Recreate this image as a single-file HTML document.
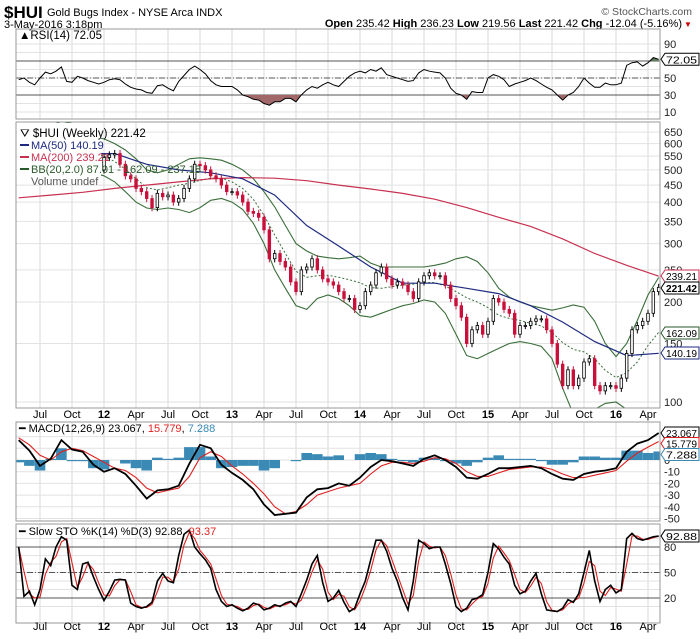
<!DOCTYPE html>
<html><head><meta charset="utf-8">
<style>
body{margin:0;background:#fff;}
svg{display:block;font-family:"Liberation Sans",sans-serif;}
</style></head>
<body>
<svg id="chart" width="700" height="639" viewBox="0 0 700 639" xmlns="http://www.w3.org/2000/svg">
<rect x="0" y="0" width="700" height="639" fill="#fff"/>
<text x="4" y="18" font-size="17" font-weight="bold">$HUI</text>
<text x="47" y="16" font-size="11">Gold Bugs Index - NYSE Arca INDX</text>
<text x="692" y="15" font-size="10.5" fill="#555" text-anchor="end">© StockCharts.com</text>
<text x="4" y="28" font-size="11">3-May-2016 3:18pm</text>
<text x="682" y="27" font-size="11" text-anchor="end"><tspan font-weight="bold">Open</tspan> 235.42 <tspan font-weight="bold">High</tspan> 236.23 <tspan font-weight="bold">Low</tspan> 219.56 <tspan font-weight="bold">Last</tspan> 221.42 <tspan font-weight="bold">Chg</tspan> -12.04 (-5.16%)</text>
<text x="684" y="27" font-size="8" fill="#c00">▼</text>
<g id="g"></g>
</svg>
<script>
const closes=[540,550,540,520,545,580,590,630,640,590,520,560,590,570,560,500,
545,555,560,520,480,470,440,430,410,385,425,415,420,400,410,440,470,520,515,500,480,470,450,430,
430,420,400,375,370,360,330,270,280,265,255,230,215,250,255,270,250,235,230,225,215,205,205,190,
195,215,225,245,255,235,225,230,225,215,205,230,240,245,240,240,225,205,195,180,150,165,170,160,
175,205,200,190,185,160,170,170,175,178,178,165,150,130,112,125,112,118,132,135,112,108,112,112,
110,118,140,165,170,175,185,215,221.42];
const ma200=[412,420,428,440,450,460,470,474,472,464,450,438,425,408,385,360,338,310,280,258,239.21];
const ma50=[550,560,560,560,520,500,490,470,420,340,295,255,228,228,220,212,195,174,152,138,140.19];
const bbUpper=[620,610,640,680,700,690,650,630,620,600,574,540,500,490,500,520,540,544,540,535,520,500,470,430,387,340,300,285,275,272,270,272,275,262,255,255,255,255,255,258,262,270,274,265,245,220,207,200,195,192,189,192,196,193,175,150,137,150,176,210,237.18];
const bbLower=[480,500,490,470,470,470,480,490,480,460,430,400,384,380,384,380,372,385,405,410,400,380,345,300,250,220,195,190,205,210,205,195,182,180,185,190,195,198,203,200,185,160,138,135,140,145,150,152,150,147,135,110,92,90,95,99,100,95,88,86,87.01];
const rsi=[48,50,45,42,50,57,55,58,63,46,45,52,50,47,45,43,45,48,49,48,43,39,37,36,33,32,41,42,38,35,46,53,60,64,60,55,47,42,40,40,40,36,30,28,25,24,20,18,22,22,26,26,22,30,36,40,38,42,45,42,40,46,52,56,58,56,60,58,62,54,52,50,48,46,47,56,60,58,57,56,50,38,32,30,25,34,33,33,50,54,52,48,40,43,45,47,50,47,43,39,36,30,24,30,33,40,50,44,39,39,44,42,42,44,65,68,69,64,68,74,72.05];
const macd=[17,8,-5,1,17,9,7,-4,-10,-7,-12,-22,-33,-26,-25,-22,-3,13,10,-4,-11,-17,-25,-38,-47,-46,-45,-32,-25,-24,-20,-22,-15,-6,0,-1,-3,-5,1,4,0,-6,-15,-16,-12,-7,-7,-6,-5,-7,-12,-16,-17,-12,-10,-9,-7,7,14,17,23.067];
const signal=[19,13,4,0,7,10,8,3,-2,-7,-9,-15,-24,-28,-26,-24,-14,2,7,3,-5,-12,-20,-29,-40,-46,-44,-38,-30,-27,-24,-22,-20,-12,-5,-2,-2,-3,-1,2,1,-3,-10,-14,-14,-11,-8,-7,-6,-6,-8,-12,-15,-15,-13,-11,-9,-1,6,11,15.779];
const stoK=[80,22,28,12,30,66,58,80,92,88,35,30,60,62,45,30,17,28,41,42,41,14,10,8,10,15,40,49,40,38,70,95,100,80,72,65,55,30,16,10,12,8,5,8,14,12,6,8,12,10,14,16,10,25,41,60,70,38,16,20,29,15,4,8,25,40,65,88,88,75,55,40,20,6,40,88,84,78,80,80,60,37,10,4,8,18,20,24,50,84,78,68,60,35,25,28,40,49,25,6,5,4,8,18,15,25,50,76,40,16,30,35,26,30,90,96,90,88,90,92,92.88];
const priceTicks=[650,600,550,500,450,400,350,300,250,200,150,100];
const rsiTicks=[90,50,30,10];
const macdTicks=[0,-10,-20,-30,-40,-50];
const stoTicks=[80,50,20];
const dateLabels=["Jul","Oct","12","Apr","Jul","Oct","13","Apr","Jul","Oct","14","Apr","Jul","Oct","15","Apr","Jul","Oct","16","Apr"];

const NS="http://www.w3.org/2000/svg";
const G=document.getElementById('g');
const L=16,R=660;
function xi(i){return 18.7+5.333*i;}
function xk(k){return xi(2*k);}
function xq(q){return 40+q*32;}
function pY(v){return 402-144.2*Math.log(v/100);}
function rY(v){return 120.5-0.85*v;}
function mY(v){return 460-1.17*v;}
function sY(v){return 615-0.85*v;}
function el(tag,attrs,parent){const e=document.createElementNS(NS,tag);for(const k in attrs)e.setAttribute(k,attrs[k]);(parent||G).appendChild(e);return e;}
function pts(arr,fx,fy){return arr.map((v,i)=>fx(i).toFixed(1)+','+fy(v).toFixed(1)).join(' ');}

const panels=[[29,90,'rsi'],[122,286,'price'],[422,99,'macd'],[524,99,'sto']];
const defs=el('defs',{});
panels.forEach(p=>{const c=el('clipPath',{id:'clip-'+p[2]},defs);el('rect',{x:L,y:p[0],width:R-L,height:p[1]},c);});

panels.forEach(p=>{
  const g=el('g',{'clip-path':'url(#clip-'+p[2]+')'});
  
  
  for(let q=0;q<dateLabels.length;q++){el('line',{x1:xq(q),x2:xq(q),y1:p[0],y2:p[0]+p[1],stroke:'#d8d8d8','stroke-width':1},g);}
});
for(let v=10;v<100;v+=10){el('line',{x1:L,x2:R,y1:rY(v),y2:rY(v),stroke:'#e2e2e2'});}
priceTicks.forEach(v=>el('line',{x1:L,x2:R,y1:pY(v),y2:pY(v),stroke:'#e2e2e2'}));
macdTicks.concat([10,20]).forEach(v=>el('line',{x1:L,x2:R,y1:mY(v),y2:mY(v),stroke:'#e2e2e2'}));
for(let v=10;v<100;v+=10){el('line',{x1:L,x2:R,y1:sY(v),y2:sY(v),stroke:'#e2e2e2'});}

// RSI
el('line',{x1:L,x2:R,y1:rY(70),y2:rY(70),stroke:'#555'});
el('line',{x1:L,x2:R,y1:rY(30),y2:rY(30),stroke:'#555'});
el('line',{x1:L,x2:R,y1:rY(50),y2:rY(50),stroke:'#555','stroke-dasharray':'6,2,1,2'});
const ca=el('clipPath',{id:'rsi-hi'},defs);el('rect',{x:L,y:0,width:R-L,height:rY(70)},ca);
const cb=el('clipPath',{id:'rsi-lo'},defs);el('rect',{x:L,y:rY(30),width:R-L,height:100},cb);
const rp=pts(rsi,xi,rY);
const rsiHi=el('polygon',{points:xi(0)+','+rY(70)+' '+rp+' '+xi(120)+','+rY(70),fill:'#5e7e5e','clip-path':'url(#rsi-hi)'});


const rsiLo=el('polygon',{points:xi(0)+','+rY(30)+' '+rp+' '+xi(120)+','+rY(30),fill:'#a06868','clip-path':'url(#rsi-lo)'});


const rsiLine=el('polyline',{points:rp,fill:'none',stroke:'#000','stroke-width':1});



// Price panel
const pg=el('g',{'clip-path':'url(#clip-price)'});


const bbu=el('polyline',{points:pts(bbUpper,xk,pY),fill:'none',stroke:'#3a6e3a','stroke-width':1.1},pg);


const bbl=el('polyline',{points:pts(bbLower,xk,pY),fill:'none',stroke:'#3a6e3a','stroke-width':1.1},pg);


const bbMid=bbUpper.map((u,k)=>(u+bbLower[k])/2);
const bbm=el('polyline',{points:pts(bbMid,xk,pY),fill:'none',stroke:'#3a6e3a','stroke-width':1,'stroke-dasharray':'2,2'},pg);


function xm(j){return xi(6*j);}
const m200=el('polyline',{points:pts(ma200,xm,pY),fill:'none',stroke:'#c83050','stroke-width':1.2},pg);


const m50=el('polyline',{points:pts(ma50,xm,pY),fill:'none',stroke:'#1e2a80','stroke-width':1.2},pg);


closes.forEach((c,i)=>{
  const o=i?closes[i-1]:c*1.01;
  const hi=Math.max(o,c)*1.025, lo=Math.min(o,c)*0.975;
  const up=c>=o; const col=up?'#000':'#c8103a';
  const x=xi(i);
  const w=el('line',{x1:x,x2:x,y1:pY(hi),y2:pY(lo),stroke:col,'stroke-width':1},pg);
  
  
  const b=el('rect',{x:x-1.3,y:pY(Math.max(o,c)),width:2.6,height:Math.max(1,pY(Math.min(o,c))-pY(Math.max(o,c))),fill:up?'#fff':'#c8103a',stroke:col,'stroke-width':0.8},pg);
  
  
});
el('rect',{x:17,y:123,width:84,height:60,fill:'#fff'});
function legendLine(y,color,txt,name){
  const t=el('text',{x:31,y:y,'font-size':11});
  t.textContent=txt;
  
  
  if(color){el('line',{x1:20,x2:29,y1:y-4,y2:y-4,stroke:color,'stroke-width':2});}
  return t;
}
const l0=el('text',{x:20,y:137,'font-size':11.5});l0.textContent='\u26DB $HUI (Weekly) 221.42';


legendLine(149,'#1e2a80','MA(50) 140.19','legend-ma50').setAttribute('fill','#1e2a80');
legendLine(161,'#c83050','MA(200) 239.21','legend-ma200').setAttribute('fill','#c83050');
legendLine(173,'#2a5a2a','BB(20,2.0) 87.01 - 162.09 - 237.18','legend-bb').setAttribute('fill','#2a5a2a');
legendLine(185,null,'Volume undef','legend-volume').setAttribute('fill','#555');

// MACD
const hg=el('g',{'clip-path':'url(#clip-macd)'});


macd.forEach((v,k)=>{const h=v-signal[k];const y0=mY(0),y1=mY(h);
  const b=el('rect',{x:xk(k)-5.3,y:Math.min(y0,y1),width:10.6,height:Math.abs(y1-y0),fill:'#3b8ab5'},hg);
  
  
});
const sl=el('polyline',{points:pts(signal,xk,mY),fill:'none',stroke:'#e02020','stroke-width':1.1});


const ml=el('polyline',{points:pts(macd,xk,mY),fill:'none',stroke:'#000','stroke-width':1.8});



// STO
el('line',{x1:L,x2:R,y1:sY(80),y2:sY(80),stroke:'#555'});
el('line',{x1:L,x2:R,y1:sY(20),y2:sY(20),stroke:'#555'});
el('line',{x1:L,x2:R,y1:sY(50),y2:sY(50),stroke:'#555','stroke-dasharray':'6,2,1,2'});
const stoD=stoK.map((v,i)=>i?(v+stoK[i-1])/2:v);
const sd=el('polyline',{points:pts(stoD,xi,sY),fill:'none',stroke:'#e02020','stroke-width':1.1});


const sk=el('polyline',{points:pts(stoK,xi,sY),fill:'none',stroke:'#000','stroke-width':1.6});



panels.forEach(p=>el('rect',{x:L,y:p[0],width:R-L,height:p[1],fill:'none',stroke:'#999'}));

function rlab(y,txt){const t=el('text',{x:664,y:y+4,'font-size':11,fill:'#222'});t.textContent=txt;
  
  }
rsiTicks.forEach(v=>rlab(rY(v),String(v)));
priceTicks.forEach(v=>rlab(pY(v),String(v)));
macdTicks.forEach(v=>rlab(mY(v),String(v)));
stoTicks.forEach(v=>rlab(sY(v),String(v)));
function vbox(y,txt,color,bold,name){
  const g=el('g',{});
  
  
  el('polygon',{points:`661,${y} 665,${y-6} 699,${y-6} 699,${y+6} 665,${y+6}`,fill:'#fff',stroke:color,'stroke-width':1},g);
  const t=el('text',{x:666,y:y+4,'font-size':10.5,fill:'#000','font-weight':bold?'bold':'normal',textLength:31,lengthAdjust:'spacingAndGlyphs'},g);t.textContent=txt;
}
vbox(rY(72.05),'72.05','#000',false,'rsi-value-box');
vbox(276,'239.21','#c83050',false,'ma200-value-box');
vbox(288,'221.42','#000',true,'last-price-box');
vbox(333,'162.09','#2a5a2a',false,'bb-mid-value-box');
vbox(353,'140.19','#1e2a80',false,'ma50-value-box');
vbox(mY(23.067),'23.067','#000',false,'macd-value-box');
vbox(mY(15.779)+2,'15.779','#e02020',false,'signal-value-box');
vbox(mY(7.288)+3,'7.288','#3b8ab5',false,'histogram-value-box');
vbox(sY(92.88),'92.88','#000',false,'sto-value-box');

[418,630].forEach((y,r)=>{dateLabels.forEach((d,q)=>{const yr=/^\d/.test(d);
  const t=el('text',{x:xq(q),y:y,'font-size':11,'text-anchor':'middle','font-weight':yr?'bold':'normal'});t.textContent=d;
  
  });});

const rt=el('text',{x:19,y:39,'font-size':11.5});rt.textContent='\u25B2RSI(14) 72.05';


const mt=el('text',{x:19,y:432,'font-size':11});mt.innerHTML='<tspan>\u2501 MACD(12,26,9) 23.067, </tspan><tspan fill="#e02020">15.779</tspan><tspan>, </tspan><tspan fill="#3b8ab5">7.288</tspan>';


const st=el('text',{x:19,y:535,'font-size':11});st.innerHTML='<tspan>\u2501 Slow STO %K(14) %D(3) 92.88, </tspan><tspan fill="#e02020">93.37</tspan>';


</script>
</body></html>
